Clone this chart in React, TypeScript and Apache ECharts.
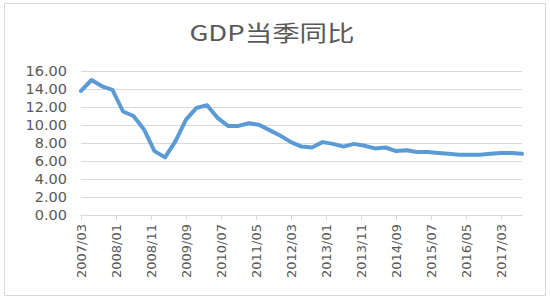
import React, { useEffect, useRef } from "react";
import * as echarts from "echarts";

// Quarterly GDP YoY growth (%), from 2007/03 to 2017/09
const quarterDates = [
  "2007/03", "2007/06", "2007/09", "2007/12",
  "2008/03", "2008/06", "2008/09", "2008/12",
  "2009/03", "2009/06", "2009/09", "2009/12",
  "2010/03", "2010/06", "2010/09", "2010/12",
  "2011/03", "2011/06", "2011/09", "2011/12",
  "2012/03", "2012/06", "2012/09", "2012/12",
  "2013/03", "2013/06", "2013/09", "2013/12",
  "2014/03", "2014/06", "2014/09", "2014/12",
  "2015/03", "2015/06", "2015/09", "2015/12",
  "2016/03", "2016/06", "2016/09", "2016/12",
  "2017/03", "2017/06", "2017/09",
];
const gdpValues = [
  13.8, 15.0, 14.3, 13.9,
  11.5, 11.0, 9.5, 7.1,
  6.4, 8.2, 10.6, 11.9,
  12.2, 10.8, 9.9, 9.9,
  10.2, 10.0, 9.4, 8.8,
  8.1, 7.6, 7.5, 8.1,
  7.9, 7.6, 7.9, 7.7,
  7.4, 7.5, 7.1, 7.2,
  7.0, 7.0, 6.9, 6.8,
  6.7, 6.7, 6.7, 6.8,
  6.9, 6.9, 6.8,
];
const titleText = "GDP当季同比";
const yMin = 0;
const yMax = 16;
const yInterval = 2;

// Monthly date axis (like Excel's date axis), labels every 10 months
function buildMonths(start: string, end: string): string[] {
  const [sy, sm] = start.split("/").map(Number);
  const [ey, em] = end.split("/").map(Number);
  const out: string[] = [];
  let y = sy;
  let m = sm;
  while (y < ey || (y === ey && m <= em)) {
    out.push(`${y}/${String(m).padStart(2, "0")}`);
    m += 1;
    if (m > 12) {
      m = 1;
      y += 1;
    }
  }
  return out;
}

export default function App() {
  const ref = useRef<HTMLDivElement>(null);
  useEffect(() => {
    if (!ref.current) return;
    const chart = echarts.init(ref.current, null, { renderer: "svg" });
    const months = buildMonths(quarterDates[0], quarterDates[quarterDates.length - 1]);
    const lookup: Record<string, number> = {};
    quarterDates.forEach((d, i) => (lookup[d] = gdpValues[i]));
    const seriesData = months.map((m) => (m in lookup ? lookup[m] : null));

    chart.setOption({
      animation: false,
      backgroundColor: "#ffffff",
      graphic: [
        {
          type: "rect",
          z: -10,
          shape: { x: 4.5, y: 3.5, width: 541, height: 292 },
          style: { fill: "#ffffff", stroke: "#d9d9d9", lineWidth: 1 },
          silent: true,
        },
        {
          type: "text",
          x: 272,
          y: 31,
          scaleX: 1.25,
          silent: true,
          style: {
            text: titleText,
            textAlign: "center",
            textVerticalAlign: "middle",
            fontFamily: "'Noto Sans CJK SC', 'Noto Sans', sans-serif",
            fontSize: 22,
            fill: "#595959",
          },
        },
      ],
      grid: { left: 81, right: 28, top: 71, bottom: 85, containLabel: false },
      xAxis: {
        type: "category",
        data: months,
        boundaryGap: false,
        axisLine: { show: true, lineStyle: { color: "#d9d9d9", width: 1 } },
        axisTick: {
          show: true,
          interval: 9,
          length: 5,
          lineStyle: { color: "#d9d9d9" },
        },
        axisLabel: {
          interval: 9,
          rotate: 90,
          margin: 9,
          color: "#595959",
          fontSize: 13,
          fontFamily: "'DejaVu Sans', sans-serif",
        },
        splitLine: { show: false },
      },
      yAxis: {
        type: "value",
        min: yMin,
        max: yMax,
        interval: yInterval,
        axisLine: { show: false },
        axisTick: { show: false },
        axisLabel: {
          margin: 14,
          color: "#595959",
          fontSize: 14.5,
          fontFamily: "'DejaVu Sans', sans-serif",
          formatter: (v: number) => v.toFixed(2),
        },
        splitLine: { show: true, lineStyle: { color: "#d9d9d9", width: 1 } },
      },
      series: [
        {
          type: "line",
          data: seriesData,
          connectNulls: true,
          showSymbol: false,
          symbol: "none",
          lineStyle: { color: "#5b9bd5", width: 4, join: "round", cap: "round" },
          itemStyle: { color: "#5b9bd5" },
        },
      ],
    });
    return () => chart.dispose();
  }, []);
  return (
    <div
      ref={ref}
      style={{ position: "absolute", left: 0, top: 0, width: 550, height: 300 }}
    />
  );
}
